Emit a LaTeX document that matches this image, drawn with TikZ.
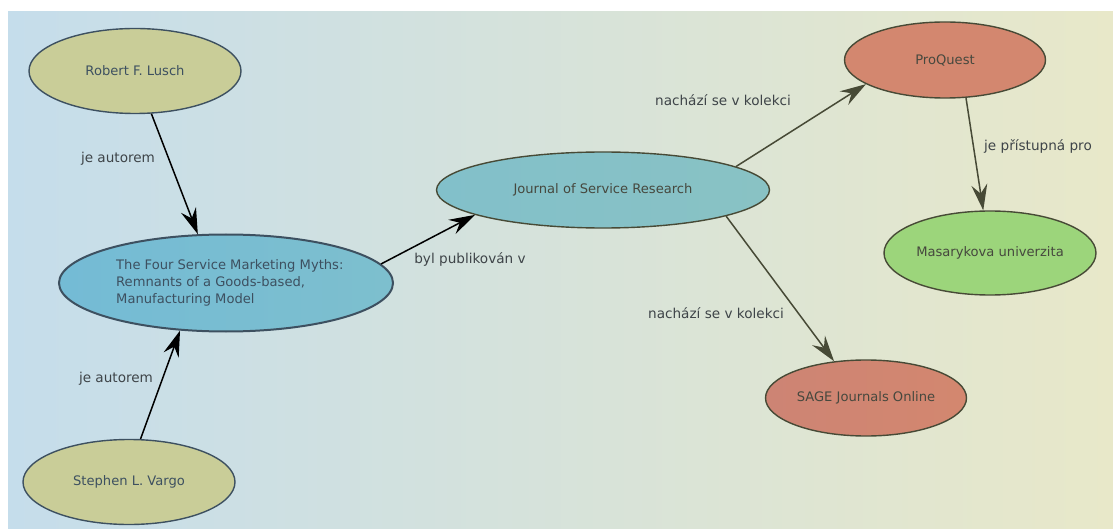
\documentclass[tikz,border=0pt]{standalone}
\usepackage{fontspec}
\setmainfont{DejaVu Sans}
\usetikzlibrary{shapes.geometric,arrows.meta}
\definecolor{bgL}{HTML}{C5DDEB}
\definecolor{bgR}{HTML}{E8E8C9}
\definecolor{khaki}{HTML}{C9CD98}
\definecolor{slate}{HTML}{3D5060}
\definecolor{myblue}{HTML}{74BBD5}
\definecolor{myblueR}{HTML}{7DBFCE}
\definecolor{teal}{HTML}{82C0CA}
\definecolor{tealR}{HTML}{89C2C4}
\definecolor{salmon}{HTML}{D3876F}
\definecolor{salmonL}{HTML}{CD8474}
\definecolor{mygreen}{HTML}{9CD57B}
\definecolor{olive}{HTML}{474A36}
\definecolor{darktxt}{HTML}{46483E}
\definecolor{lbltxt}{HTML}{3E4448}
\tikzset{
  ent/.style={ellipse, draw, line width=1.4pt, inner sep=0pt, font=\fontsize{13.1}{17}\selectfont},
  leftent/.style={ent, draw=slate, text=slate},
  rightent/.style={ent, draw=olive, text=darktxt},
  lbl/.style={font=\fontsize{13.6}{17}\selectfont, text=lbltxt, inner sep=0pt},
  blackarrow/.style={line width=1.5pt, draw=black, -{Stealth[length=26pt,width=16pt,inset=9pt]}},
  olivearrow/.style={line width=1.5pt, draw=olive, -{Stealth[length=26pt,width=16pt,inset=9pt,fill=olive]}},
}
\begin{document}
\begin{tikzpicture}[x=1pt,y=-1pt]
\useasboundingbox (0,0) rectangle (1113,529);
\shade[left color=bgL, right color=bgR] (8,12) rectangle (1113,529);

\node[leftent, fill=khaki, minimum width=212pt, minimum height=85pt] (lusch) at (135,71) {Robert F. Lusch};
\node[leftent, fill=khaki, minimum width=212pt, minimum height=85pt] (vargo) at (129,482) {Stephen L. Vargo};
\node[leftent, line width=2pt, left color=myblue, right color=myblueR, minimum width=334pt, minimum height=97pt] (four) at (226,283) {};
\node[anchor=west, align=left, text=slate, inner sep=0pt, font=\fontsize{13.1}{17}\selectfont] (fourtxt) at (116,283) {The Four Service Marketing Myths:\\Remnants of a Goods-based,\\Manufacturing Model};
\node[rightent, left color=teal, right color=tealR, minimum width=333pt, minimum height=76pt] (jsr) at (603,190) {Journal of Service Research};
\node[rightent, fill=salmon, minimum width=201pt, minimum height=76pt] (pq) at (945,60) {ProQuest};
\node[rightent, fill=mygreen, minimum width=212pt, minimum height=84pt] (mu) at (990,253) {Masarykova univerzita};
\node[rightent, left color=salmonL, right color=salmon, minimum width=201pt, minimum height=76pt] (sage) at (866,398) {SAGE Journals Online};

\draw[blackarrow] (lusch.-69.6) -- (four.120.3);
\draw[blackarrow] (vargo.75.7) -- (four.-134.4);
\draw[blackarrow] (four.7.8) -- (jsr.-169);
\draw[olivearrow] (jsr.10.2) -- (pq.-163);
\draw[olivearrow] (jsr.-12) -- (sage.131.8);
\draw[olivearrow] (pq.-61) -- (mu.99.5);

\node[lbl] (l1) at (118,159) {je autorem};
\node[lbl] (l2) at (116,379) {je autorem};
\node[lbl] (l3) at (470,259) {byl publikován v};
\node[lbl] (l4) at (723,100) {nachází se v kolekci};
\node[lbl] (l5) at (716,313) {nachází se v kolekci};
\node[lbl] (l6) at (1038,146) {je přístupná pro};
\end{tikzpicture}
\end{document}
